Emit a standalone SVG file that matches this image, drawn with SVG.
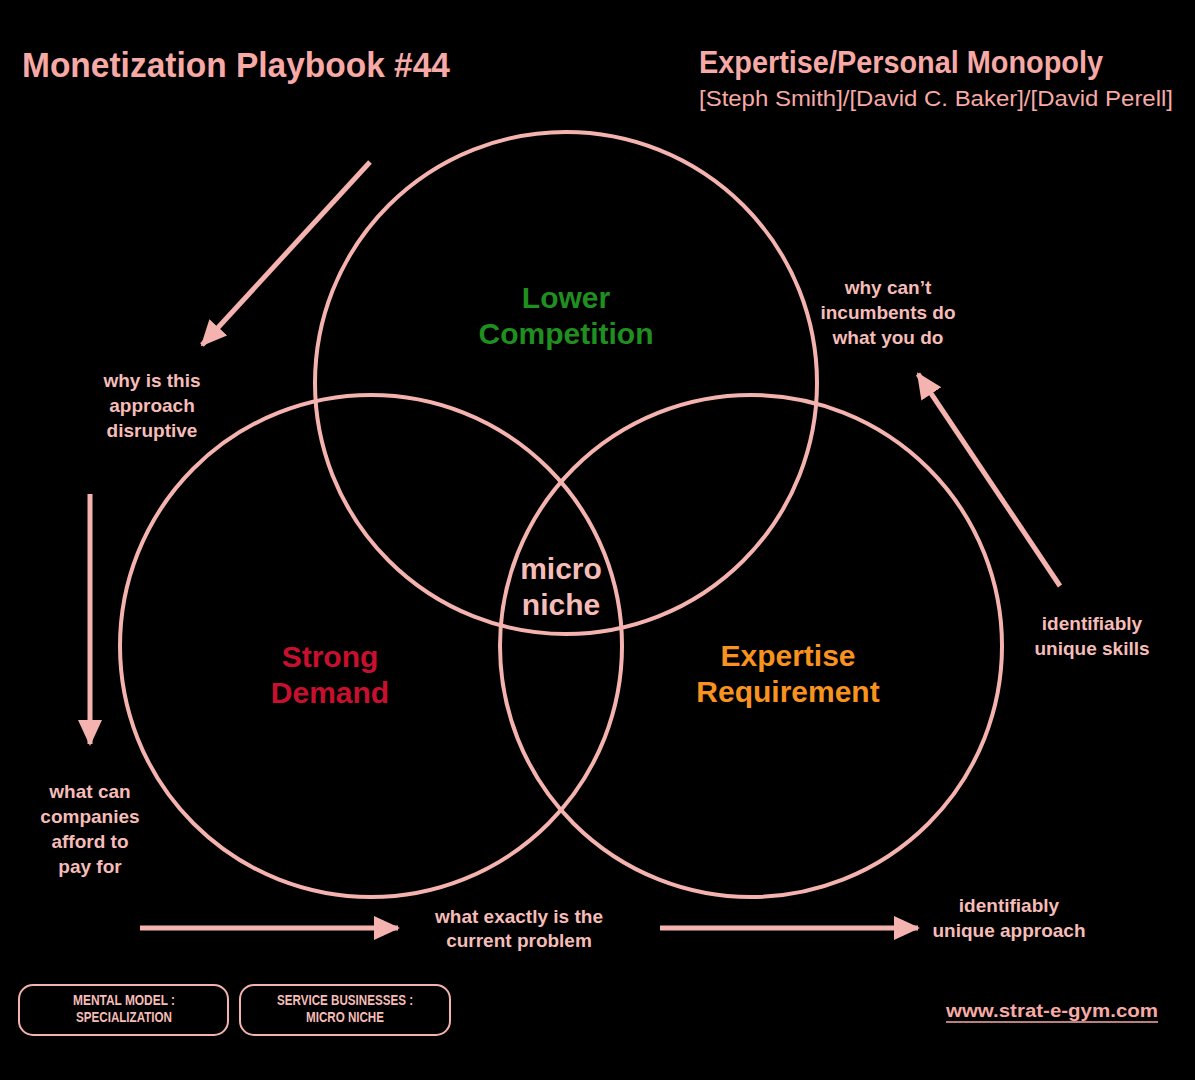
<svg xmlns="http://www.w3.org/2000/svg" width="1195" height="1080" viewBox="0 0 1195 1080">
<defs>
<style>
.bg{fill:#000}
.circ{fill:none;stroke:#f4b3ae;stroke-width:4}
.arr{stroke:#f4b3ae;stroke-width:5;fill:none;marker-end:url(#ah)}
.t{font-family:"Liberation Sans",Arial,sans-serif;font-weight:bold;fill:#f7aaa5}
.lbl{font-family:"Liberation Sans",Arial,sans-serif;font-weight:bold;font-size:19px;fill:#f6bdb8;text-anchor:middle}
.big{font-family:"Liberation Sans",Arial,sans-serif;font-weight:bold;font-size:30px;text-anchor:middle}
.box{fill:none;stroke:#f4b3ae;stroke-width:2}
.bt{font-family:"Liberation Sans",Arial,sans-serif;font-weight:bold;font-size:14px;fill:#f6bdb8;text-anchor:middle}
</style>
<marker id="ah" markerUnits="userSpaceOnUse" markerWidth="26" markerHeight="26" viewBox="0 0 26 26" refX="24" refY="13" orient="auto">
<path d="M0,1 L26,13 L0,25 Z" fill="#f4b3ae"/>
</marker>
</defs>
<rect class="bg" x="0" y="0" width="1195" height="1080"/>
<g id="titles">
<text class="t" x="22" y="77" font-size="35" textLength="428" lengthAdjust="spacingAndGlyphs">Monetization Playbook #44</text>
<text class="t" x="699" y="73" font-size="31" textLength="404" lengthAdjust="spacingAndGlyphs">Expertise/Personal Monopoly</text>
<text x="699" y="106" font-family="Liberation Sans,Arial,sans-serif" font-size="22" fill="#f7aaa5" textLength="474" lengthAdjust="spacingAndGlyphs">[Steph Smith]/[David C. Baker]/[David Perell]</text>
</g>
<g id="circle-lower-competition">
<circle class="circ" cx="566" cy="383" r="251"/>
<text class="big" fill="#1f8f1f" x="566" y="308">Lower</text>
<text class="big" fill="#1f8f1f" x="566" y="344">Competition</text>
</g>
<g id="circle-strong-demand">
<circle class="circ" cx="371" cy="646" r="251"/>
<text class="big" fill="#c8102e" x="330" y="667">Strong</text>
<text class="big" fill="#c8102e" x="330" y="703">Demand</text>
</g>
<g id="circle-expertise">
<circle class="circ" cx="751" cy="646" r="251"/>
<text class="big" fill="#f7931e" x="788" y="666">Expertise</text>
<text class="big" fill="#f7931e" x="788" y="702">Requirement</text>
</g>
<g id="center-micro-niche">
<text class="big" fill="#f6bdb8" x="561" y="579">micro</text>
<text class="big" fill="#f6bdb8" x="561" y="615">niche</text>
</g>
<g id="connectors">
<line class="arr" x1="370" y1="162" x2="202" y2="345"/>
<line class="arr" x1="90" y1="494" x2="90" y2="744"/>
<line class="arr" x1="140" y1="928" x2="398" y2="928"/>
<line class="arr" x1="660" y1="928" x2="918" y2="928"/>
<line class="arr" x1="1060" y1="586" x2="918" y2="374"/>
</g>
<g id="label-why-disruptive">
<text class="lbl" x="152" y="387">why is this</text>
<text class="lbl" x="152" y="412">approach</text>
<text class="lbl" x="152" y="437">disruptive</text>
</g>
<g id="label-incumbents">
<text class="lbl" x="888" y="294">why can’t</text>
<text class="lbl" x="888" y="319">incumbents do</text>
<text class="lbl" x="888" y="344">what you do</text>
</g>
<g id="label-afford">
<text class="lbl" x="90" y="798">what can</text>
<text class="lbl" x="90" y="823">companies</text>
<text class="lbl" x="90" y="848">afford to</text>
<text class="lbl" x="90" y="873">pay for</text>
</g>
<g id="label-problem">
<text class="lbl" x="519" y="923">what exactly is the</text>
<text class="lbl" x="519" y="947">current problem</text>
</g>
<g id="label-unique-approach">
<text class="lbl" x="1009" y="912">identifiably</text>
<text class="lbl" x="1009" y="937">unique approach</text>
</g>
<g id="label-unique-skills">
<text class="lbl" x="1092" y="630">identifiably</text>
<text class="lbl" x="1092" y="655">unique skills</text>
</g>
<g id="box-mental-model">
<rect class="box" x="19" y="985" width="209" height="50" rx="14"/>
<text class="bt" x="124" y="1005" textLength="102" lengthAdjust="spacingAndGlyphs">MENTAL MODEL :</text>
<text class="bt" x="124" y="1022" textLength="96" lengthAdjust="spacingAndGlyphs">SPECIALIZATION</text>
</g>
<g id="box-service">
<rect class="box" x="240" y="985" width="210" height="50" rx="14"/>
<text class="bt" x="345" y="1005" textLength="136" lengthAdjust="spacingAndGlyphs">SERVICE BUSINESSES :</text>
<text class="bt" x="345" y="1022" textLength="78" lengthAdjust="spacingAndGlyphs">MICRO NICHE</text>
</g>
<g id="url">
<text class="t" x="946" y="1017" font-size="18" textLength="212" lengthAdjust="spacingAndGlyphs">www.strat-e-gym.com</text>
<line x1="946" y1="1022" x2="1158" y2="1022" stroke="#f7aaa5" stroke-width="1.5"/>
</g>
</svg>
